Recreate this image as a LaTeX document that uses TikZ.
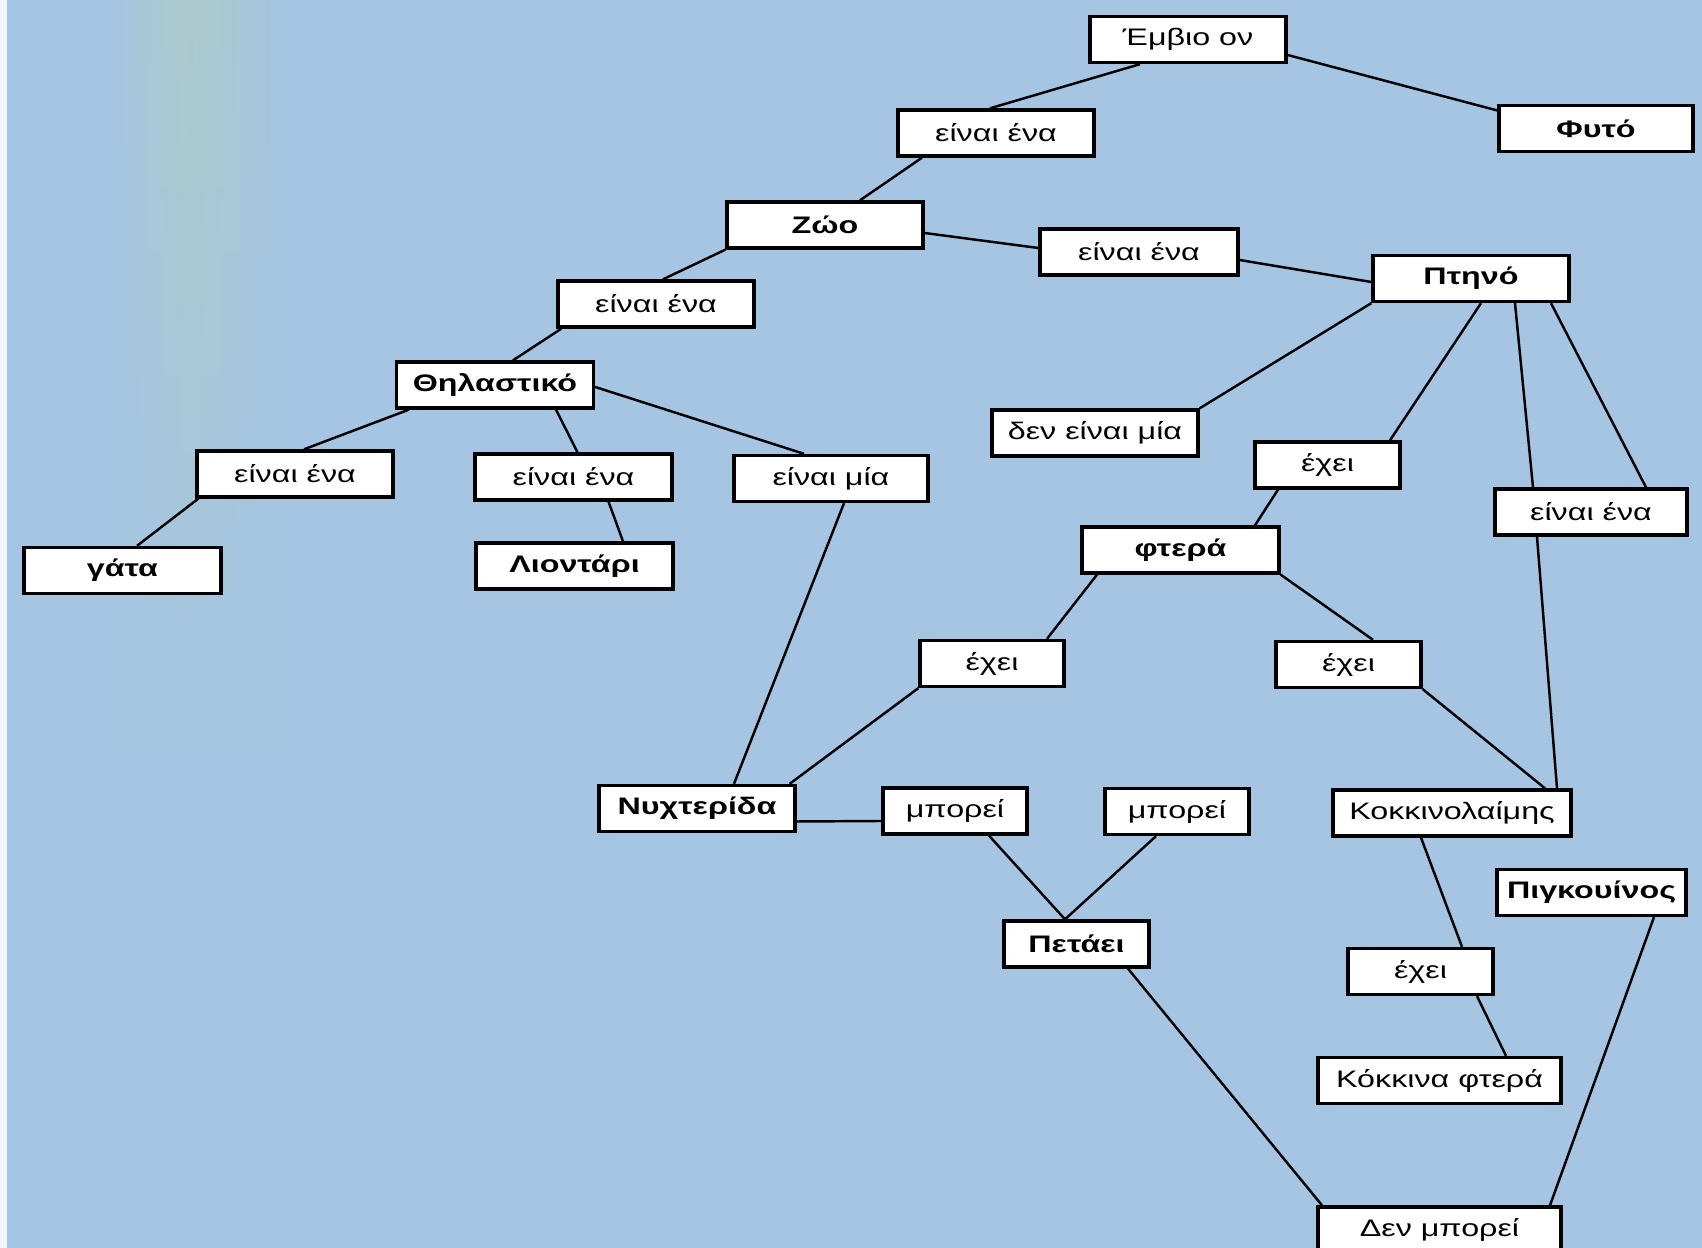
\documentclass[tikz,border=0pt]{standalone}
\usepackage{fontspec}
\setmainfont[FakeStretch=1.35]{Liberation Sans}
\usepackage{tikz}
\usetikzlibrary{positioning,calc,fadings}

\definecolor{bgblue}{RGB}{166,197,226}
\definecolor{bggreen}{RGB}{172,202,204}

\begin{document}
\begin{tikzpicture}[
    box/.style={draw, line width=0.95pt, fill=white, minimum width=1.96cm, minimum height=0.46cm, inner sep=0pt, align=center, font=\fontsize{6.8}{8}\selectfont},
    cpt/.style={box, font=\fontsize{6.8}{8}\selectfont\bfseries},
    rel/.style={box},
    lnk/.style={line width=0.7pt, black}
]
% background of the scanned page
\useasboundingbox (0,0) rectangle (17.02,-12.48);
\fill[bgblue] (0,0) rectangle (17.02,-12.48);
\shade[left color=bgblue, right color=bggreen, path fading=south] (1.0,0) rectangle (1.9,-7.5);
\shade[left color=bggreen, right color=bgblue, path fading=south] (1.9,0) rectangle (2.9,-7.5);
\fill[white!85!bgblue] (0,0) rectangle (0.07,-12.48);

% nodes
\node[rel] (emb) at (11.88,-0.395) {Έμβιο ον};
\node[cpt, minimum width=1.94cm] (fyto) at (15.96,-1.285) {Φυτό};
\node[rel] (a1) at (9.96,-1.33) {είναι ένα};
\node[cpt] (zoo) at (8.25,-2.25) {Ζώο};
\node[rel, minimum width=1.98cm] (a2) at (11.39,-2.52) {είναι ένα};
\node[cpt] (ptino) at (14.71,-2.785) {Πτηνό};
\node[rel] (a3) at (6.56,-3.04) {είναι ένα};
\node[cpt, minimum width=1.97cm] (thil) at (4.95,-3.85) {Θηλαστικό};
\node[rel, minimum width=2.06cm] (den) at (10.95,-4.33) {δεν είναι μία};
\node[rel] (a4) at (2.95,-4.74) {είναι ένα};
\node[rel, minimum width=1.97cm] (a5) at (5.735,-4.77) {είναι ένα};
\node[rel, minimum width=1.94cm] (a6) at (8.31,-4.785) {είναι μία};
\node[rel, minimum width=1.45cm] (e1) at (13.275,-4.65) {έχει};
\node[rel, minimum width=1.92cm] (a7) at (15.91,-5.12) {είναι ένα};
\node[cpt, minimum width=1.97cm] (gata) at (1.225,-5.705) {γάτα};
\node[cpt, minimum width=1.97cm] (liont) at (5.745,-5.66) {Λιοντάρι};
\node[cpt, minimum width=1.97cm] (ftera) at (11.805,-5.50) {φτερά};
\node[rel, minimum width=1.44cm] (e2) at (9.92,-6.635) {έχει};
\node[rel, minimum width=1.45cm] (e3) at (13.485,-6.645) {έχει};
\node[cpt] (nyx) at (6.97,-8.085) {Νυχτερίδα};
\node[rel, minimum width=1.44cm] (m1) at (9.55,-8.11) {μπορεί};
\node[rel, minimum width=1.44cm] (m2) at (11.77,-8.115) {μπορεί};
\node[rel, minimum width=2.38cm] (kokk) at (14.52,-8.13) {Κοκκινολαίμης};
\node[cpt, minimum width=1.89cm] (pigk) at (15.915,-8.925) {Πιγκουίνος};
\node[cpt, minimum width=1.45cm] (pet) at (10.765,-9.44) {Πετάει};
\node[rel, minimum width=1.45cm] (e4) at (14.205,-9.715) {έχει};
\node[rel, minimum width=2.43cm] (kokf) at (14.395,-10.805) {Κόκκινα φτερά};
\node[rel, minimum width=2.43cm] (denm) at (14.395,-12.30) {Δεν μπορεί};

% connectors
\draw[lnk] ([xshift=-4.8mm]emb.south) -- ([xshift=-0.6mm]a1.north);
\draw[lnk] ([yshift=-1.55mm]emb.east) -- ([yshift=1.8mm]fyto.west);
\draw[lnk] ([xshift=-7.4mm]a1.south) -- ([xshift=3.5mm]zoo.north);
\draw[lnk] ([yshift=-0.8mm]zoo.east) -- ([yshift=0.4mm]a2.west);
\draw[lnk] ([yshift=-0.8mm]a2.east) -- ([yshift=-0.35mm]ptino.west);
\draw[lnk] (zoo.south west) -- ([xshift=0.7mm]a3.north);
\draw[lnk] ([xshift=0.5mm]a3.south west) -- ([xshift=1.8mm]thil.north);
\draw[lnk] ([xshift=1.4mm]thil.south west) -- ([xshift=0.9mm]a4.north);
\draw[lnk] ([xshift=6.1mm]thil.south) -- ([xshift=0.4mm]a5.north);
\draw[lnk] ([yshift=-0.2mm]thil.east) -- ([xshift=-2.7mm]a6.north);
\draw[lnk] ([xshift=0.3mm]a4.south west) -- ([xshift=1.45mm]gata.north);
\draw[lnk] ([xshift=3.5mm]a5.south) -- ([xshift=4.85mm]liont.north);
\draw[lnk] ([xshift=1.3mm]a6.south) -- ([xshift=3.7mm]nyx.north);
\draw[lnk] (ptino.south west) -- (den.north east);
\draw[lnk] ([xshift=1mm]ptino.south) -- ([xshift=6.25mm]e1.north);
\draw[lnk] ([xshift=4.4mm]ptino.south) -- ([xshift=-5.8mm]a7.north);
\draw[lnk] ([xshift=8mm]ptino.south) -- ([xshift=5.5mm]a7.north);
\draw[lnk] ([xshift=-4.95mm]e1.south) -- ([xshift=7.45mm]ftera.north);
\draw[lnk] ([xshift=-5.4mm]a7.south) -- ([xshift=10.5mm]kokk.north);
\draw[lnk] ([xshift=-8.35mm]ftera.south) -- ([xshift=5.5mm]e2.north);
\draw[lnk] (ftera.south east) -- ([xshift=2.45mm]e3.north);
\draw[lnk] (e2.south west) -- ([xshift=-0.7mm]nyx.north east);
\draw[lnk] (e3.south east) -- ([xshift=9.3mm]kokk.north);
\draw[lnk] ([yshift=-1.3mm]nyx.east) -- ([yshift=-1mm]m1.west);
\draw[lnk] ([xshift=3.4mm]m1.south) -- ([xshift=-1.15mm]pet.north);
\draw[lnk] ([xshift=-2.1mm]m2.south) -- ([xshift=-1.15mm]pet.north);
\draw[lnk] ([xshift=-3.1mm]kokk.south) -- ([xshift=4.15mm]e4.north);
\draw[lnk] ([xshift=5.65mm]e4.south) -- ([xshift=6.65mm]kokf.north);
\draw[lnk] ([xshift=6.25mm]pigk.south) -- ([xshift=11.05mm]denm.north);
\draw[lnk] ([xshift=5.15mm]pet.south) -- ([xshift=-11.75mm]denm.north);
\end{tikzpicture}
\end{document}
